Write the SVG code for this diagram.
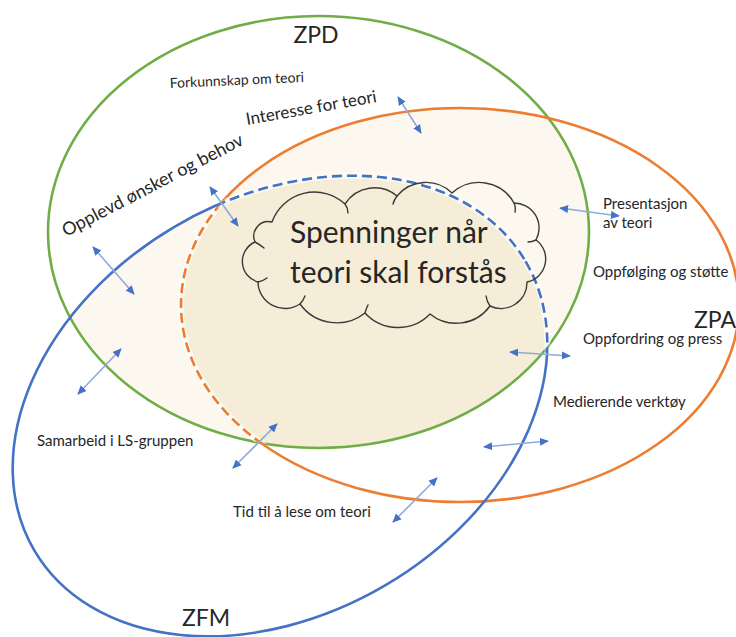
<svg xmlns="http://www.w3.org/2000/svg" width="736" height="637" viewBox="0 0 736 637">
  <style>
    .lbl { font-family: Lato, "Liberation Sans", sans-serif; fill: #262626; }
    .zone { font-size: 23px; }
    .small { font-size: 15px; }
    .ring { fill: none; stroke-width: 2.6; }
    .green { stroke: #70ad47; }
    .orange { stroke: #ed7d31; }
    .blue { stroke: #4472c4; }
    .dash { stroke-dasharray: 10 5; }
    .halo { fill: none; stroke: #ffffff; stroke-opacity: 0.6; stroke-width: 6; }
    .link { stroke: #8faadc; stroke-width: 1.6; fill: none; marker-start: url(#head); marker-end: url(#head); }
    .cloud { fill: none; stroke: #3a3a3a; stroke-width: 1.4; stroke-linejoin: round; stroke-linecap: round; }
  </style>
  <defs>
    <ellipse id="eGreen" cx="318.5" cy="232" rx="270.5" ry="216"/>
    <ellipse id="eOrange" cx="460" cy="305" rx="279" ry="197"/>
    <ellipse id="eBlue" cx="0" cy="0" rx="285" ry="208" transform="translate(280 406) rotate(-30.5)"/>
    <clipPath id="inGreen"><use href="#eGreen"/></clipPath>
    <clipPath id="inOrange"><use href="#eOrange"/></clipPath>
    <clipPath id="inBlue"><use href="#eBlue"/></clipPath>
    <!-- everything except the green/blue overlap -->
    <mask id="outGB" maskUnits="userSpaceOnUse" x="0" y="0" width="736" height="637">
      <rect width="736" height="637" fill="#fff"/>
      <g clip-path="url(#inBlue)"><use href="#eGreen" fill="#000"/></g>
    </mask>
    <!-- everything except the green/orange overlap -->
    <mask id="outGO" maskUnits="userSpaceOnUse" x="0" y="0" width="736" height="637">
      <rect width="736" height="637" fill="#fff"/>
      <g clip-path="url(#inOrange)"><use href="#eGreen" fill="#000"/></g>
    </mask>
    <marker id="head" viewBox="0 0 10 10" refX="9" refY="5" markerWidth="9" markerHeight="9" markerUnits="userSpaceOnUse" orient="auto-start-reverse">
      <path d="M0,0.5 L10,5 L0,9.5 z" fill="#4472c4"/>
    </marker>
  </defs>

  <rect width="736" height="637" fill="#ffffff"/>

  <!-- shaded overlaps -->
  <g id="overlaps" clip-path="url(#inGreen)">
    <use href="#eOrange" fill="#fcf8ef"/>
    <use href="#eBlue" fill="#fcf8ef"/>
    <g clip-path="url(#inOrange)"><use href="#eBlue" fill="#f5edd8"/></g>
  </g>

  <!-- zone of proximal development -->
  <g id="zpd">
    <use href="#eGreen" class="ring green"/>
    <text class="lbl zone" x="316" y="43" text-anchor="middle">ZPD</text>
  </g>

  <!-- zone of promoted action -->
  <g id="zpa">
    <use href="#eOrange" class="ring orange" mask="url(#outGB)"/>
    <g clip-path="url(#inGreen)"><g clip-path="url(#inBlue)">
      <use href="#eOrange" class="halo"/>
      <use href="#eOrange" class="ring orange dash"/>
    </g></g>
    <text class="lbl zone" x="694" y="328">ZPA</text>
  </g>

  <!-- zone of free movement -->
  <g id="zfm">
    <use href="#eBlue" class="ring blue" mask="url(#outGO)"/>
    <g clip-path="url(#inGreen)"><g clip-path="url(#inOrange)">
      <use href="#eBlue" class="halo"/>
      <use href="#eBlue" class="ring blue dash"/>
    </g></g>
    <text class="lbl zone" x="182" y="626">ZFM</text>
  </g>

  <!-- central cloud -->
  <g id="tension">
    <path class="cloud" d="M272,222 A45,45 0 0 1 345,204 A35,35 0 0 1 397,196 A37.5,37.5 0 0 1 452,193 A40,40 0 0 1 514,203 A25,25 0 0 1 536,240 A23.5,23.5 0 0 1 527,282 A26,26 0 0 1 490,306 A41.7,41.7 0 0 1 430,314 A44.7,44.7 0 0 1 365,313 A45.4,45.4 0 0 1 300,304 A27,27 0 0 1 258,282 A21.3,21.3 0 0 1 255,242 A14.6,14.6 0 0 1 272,222 Z"/>
    <path class="cloud" d="M345,204 q3,4 3,9 M397,196 q-3,4 -4,8 M514,203 q2,4 1,9 M536,240 q-4,2 -8,2 M490,306 q-3,-4 -4,-10 M365,313 q1,-4 3,-8 M300,304 q3,-3 5,-8 M258,282 q5,-1 9,-4 M255,242 q4,2 9,6"/>
    <text class="lbl" x="290" y="243" font-size="30">Spenninger når</text>
    <text class="lbl" x="290" y="283" font-size="30">teori skal forstås</text>
  </g>

  <!-- factor labels -->
  <g id="labels">
    <text class="lbl" font-size="14" transform="translate(170 88) rotate(-2.6)">Forkunnskap om teori</text>
    <text class="lbl" font-size="17" transform="translate(247 125) rotate(-10)">Interesse for teori</text>
    <text class="lbl" font-size="18" transform="translate(66 237) rotate(-27.5)">Opplevd ønsker og behov</text>
    <text class="lbl small" x="603" y="209">Presentasjon</text>
    <text class="lbl small" x="603" y="228">av teori</text>
    <text class="lbl small" x="593" y="277">Oppfølging og støtte</text>
    <text class="lbl small" x="583" y="344">Oppfordring og press</text>
    <text class="lbl small" x="553" y="407">Medierende verktøy</text>
    <text class="lbl small" x="37" y="446">Samarbeid i LS-gruppen</text>
    <text class="lbl small" x="233" y="517">Tid til å lese om teori</text>
  </g>

  <!-- two-way influence arrows -->
  <g id="connectors">
    <line class="link" x1="398" y1="97" x2="421" y2="133"/>
    <line class="link" x1="210" y1="187" x2="238" y2="226"/>
    <line class="link" x1="93" y1="247" x2="134" y2="294"/>
    <line class="link" x1="78" y1="394" x2="121" y2="349"/>
    <line class="link" x1="233" y1="468" x2="277" y2="424"/>
    <line class="link" x1="393" y1="522" x2="437" y2="478"/>
    <line class="link" x1="484" y1="447" x2="548" y2="441"/>
    <line class="link" x1="510" y1="352" x2="570" y2="356"/>
    <line class="link" x1="560" y1="208" x2="619" y2="216"/>
  </g>
</svg>
